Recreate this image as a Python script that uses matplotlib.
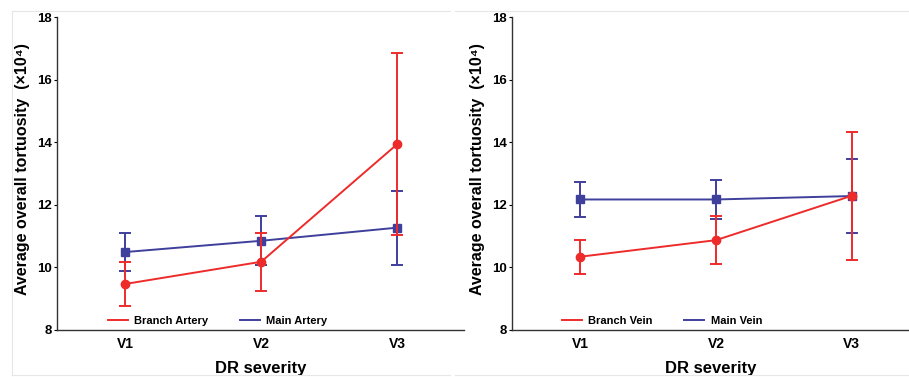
import matplotlib.pyplot as plt
from matplotlib.lines import Line2D

plt.rcParams["font.family"] = ["Liberation Sans", "DejaVu Sans"]
plt.rcParams["font.weight"] = "bold"

groups = ["V1", "V2", "V3"]

branch_artery = [9.47, 10.18, 13.94]
branch_artery_err = [0.71, 0.93, 2.90]
main_artery = [10.49, 10.85, 11.27]
main_artery_err = [0.62, 0.78, 1.18]

branch_vein = [10.34, 10.87, 12.29]
branch_vein_err = [0.55, 0.77, 2.05]
main_vein = [12.17, 12.17, 12.28]
main_vein_err = [0.56, 0.61, 1.18]

red = "#ee2b2b"
blue = "#3f3f9c"


def draw_panel(ax, branch, branch_err, main, main_err, names, xmax):
    x = [1, 2, 3]
    ax.errorbar(x, branch, yerr=branch_err, color=red, marker="o", markersize=6,
                linewidth=1.4, elinewidth=1.4, capsize=4, capthick=1.4, zorder=3)
    ax.errorbar(x, main, yerr=main_err, color=blue, marker="s", markersize=6,
                linewidth=1.4, elinewidth=1.4, capsize=4, capthick=1.4, zorder=2)
    ax.set_xlim(0.5, xmax)
    ax.set_ylim(8, 18)
    ax.set_yticks([8, 10, 12, 14, 16, 18])
    ax.set_xticks(x)
    ax.set_xticklabels(groups)
    for s in ["top", "right"]:
        ax.spines[s].set_visible(False)
    for s in ["left", "bottom"]:
        ax.spines[s].set_color("#333333")
        ax.spines[s].set_linewidth(1.0)
    ax.tick_params(axis="y", labelsize=9.5, length=2.5, width=0.8, pad=1)
    ax.tick_params(axis="x", labelsize=10, length=0, pad=5)
    for lab in ax.get_xticklabels() + ax.get_yticklabels():
        lab.set_fontweight("bold")
    ax.set_ylabel("Average overall tortuosity  (\u00d710\u2074)", fontsize=11.5,
                  fontweight="bold")
    ax.yaxis.set_label_coords(-0.067, 0.515)
    ax.set_xlabel("DR severity", fontsize=12, fontweight="bold", labelpad=7)
    handles = [Line2D([0], [0], color=red, lw=1.4),
               Line2D([0], [0], color=blue, lw=1.4)]
    ax.legend(handles, names, loc="lower left", bbox_to_anchor=(0.1, -0.02),
              ncol=2, frameon=False, handlelength=1.8,
              columnspacing=2.8, handletextpad=0.6,
              prop={"weight": "bold", "size": 8})


fig = plt.figure(figsize=(9.09, 3.77), dpi=100)

# faint panel borders
for x0, x1 in [(12 / 909, 450 / 909), (455 / 909, 1.0)]:
    fig.add_artist(Line2D([x0, x1], [1 - 11 / 377] * 2, color="#e6e6e6", lw=0.8))
    fig.add_artist(Line2D([x0, x1], [1 - 375 / 377] * 2, color="#e6e6e6", lw=0.8))
fig.add_artist(Line2D([12 / 909] * 2, [1 - 11 / 377, 1 - 375 / 377], color="#e6e6e6", lw=0.8))

ax1 = fig.add_axes([57 / 909, 1 - 330 / 377, 407 / 909, 313 / 377])
ax2 = fig.add_axes([512 / 909, 1 - 330 / 377, 397 / 909, 313 / 377])

draw_panel(ax1, branch_artery, branch_artery_err, main_artery, main_artery_err,
           ["Branch Artery", "Main Artery"], 3.49)
draw_panel(ax2, branch_vein, branch_vein_err, main_vein, main_vein_err,
           ["Branch Vein", "Main Vein"], 3.42)

fig.savefig("out.png", dpi=100)
